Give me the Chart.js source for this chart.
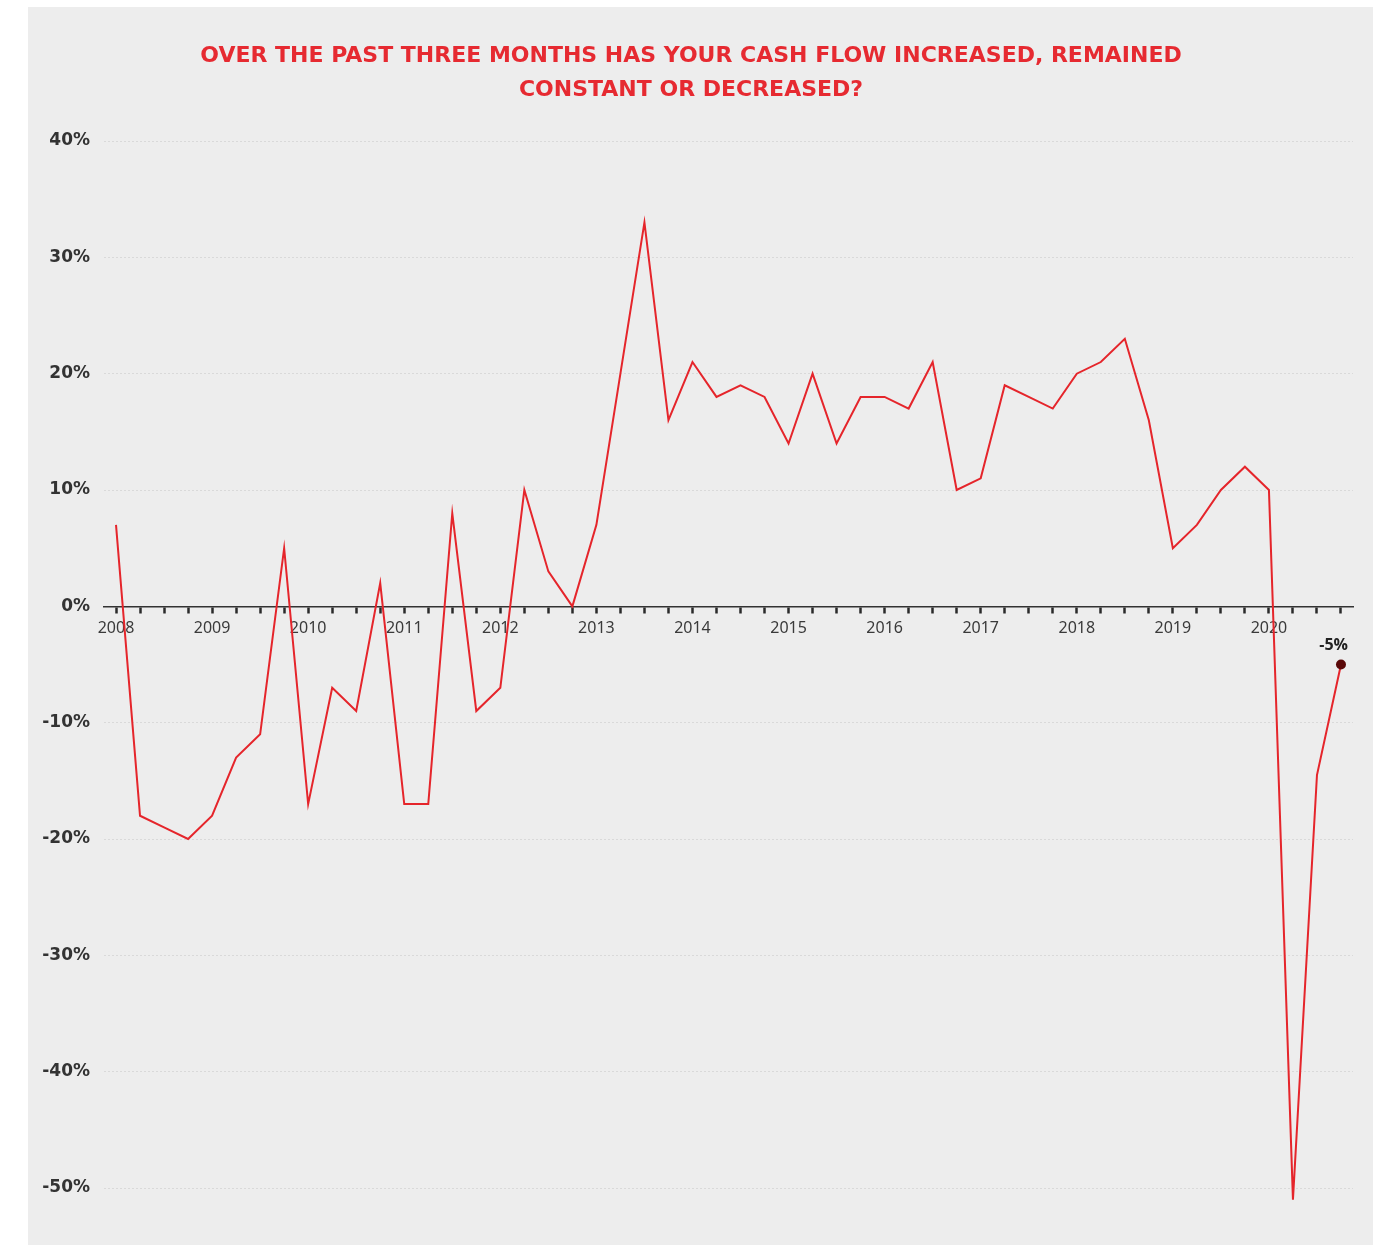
<!DOCTYPE html>
<html>
<head>
<meta charset="utf-8">
<title>Cash flow</title>
<script src="https://cdn.jsdelivr.net/npm/chart.js@4.4.0/dist/chart.umd.min.js"></script>
<style>
  body { margin: 0; background: #fff; }
  #panel { position: absolute; left: 28px; top: 7px; width: 1345px; height: 1238px; background: #ededed; }
</style>
</head>
<body>
<div id="panel"><canvas id="myChart" width="1345" height="1238"></canvas></div>
<script>
// Net balance of businesses reporting higher vs lower cash flow, by quarter
var years = ['2008', '2009', '2010', '2011', '2012', '2013', '2014', '2015', '2016', '2017', '2018', '2019', '2020'];
var quarters = ['Q1', 'Q2', 'Q3', 'Q4'];
var netBalance = [
    7, -18, -19, -20,
    -18, -13, -11, 5,
    -17, -7, -9, 2,
    -17, -17, 8, -9,
    -7, 10, 3, 0,
    7, 20, 33, 16,
    21, 18, 19, 18,
    14, 20, 14, 18,
    18, 17, 21, 10,
    11, 19, 18, 17,
    20, 21, 23, 16,
    5, 7, 10, 12,
    10, -51, -14.5, -5
];
var yTicks = [40, 30, 20, 10, 0, -10, -20, -30, -40, -50];

var labels = [];
years.forEach(function(y) {
    quarters.forEach(function(q) {
        labels.push(y + ' ' + q);
    });
});

var lastIndex = netBalance.length - 1;

// Writes the latest value above its marker
var lastValueLabel = {
    id: 'lastValueLabel',
    afterDatasetsDraw: function(chart) {
        var pt = chart.getDatasetMeta(0).data[lastIndex];
        var ctx = chart.ctx;
        ctx.save();
        ctx.font = 'bold 16px "Open Sans"';
        ctx.fillStyle = '#222';
        ctx.textAlign = 'right';
        ctx.textBaseline = 'alphabetic';
        ctx.fillText(netBalance[lastIndex] + '%', pt.x + 7, pt.y - 15);
        ctx.restore();
    }
};

var ctx = document.getElementById('myChart').getContext('2d');
var chart = new Chart(ctx, {
    type: 'line',
    data: {
        labels: labels,
        datasets: [{
            data: netBalance,
            borderColor: '#e5252b',
            borderWidth: 2,
            tension: 0,
            clip: false,
            pointRadius: netBalance.map(function(v, i) { return i === lastIndex ? 5 : 0; }),
            pointBackgroundColor: '#5a0808',
            pointBorderColor: '#5a0808',
            pointBorderWidth: 0
        }]
    },
    options: {
        responsive: false,
        animation: false,
        layout: {
            padding: { left: 1, right: 20, top: 0, bottom: 57 }
        },
        plugins: {
            legend: { display: false },
            tooltip: { enabled: false },
            title: {
                display: true,
                text: ['OVER THE PAST THREE MONTHS HAS YOUR CASH FLOW INCREASED, REMAINED', 'CONSTANT OR DECREASED?'],
                color: '#e62a31',
                font: { family: '"DejaVu Sans"', size: 22, weight: 'bold', lineHeight: 34 / 22 },
                padding: { top: 32, bottom: 34 }
            }
        },
        scales: {
            x: {
                type: 'category',
                offset: true,
                position: { y: 0 },
                border: { display: true, color: '#333', width: 1.5 },
                grid: {
                    drawOnChartArea: false,
                    offset: false,
                    tickLength: 6,
                    tickColor: '#2a2a2a',
                    tickWidth: 2.5
                },
                ticks: {
                    autoSkip: false,
                    maxRotation: 0,
                    padding: 7,
                    color: '#3a3a3a',
                    font: { family: '"Noto Sans"', size: 16 },
                    callback: function(value, index) {
                        return index % 4 === 0 ? years[index / 4] : '';
                    }
                }
            },
            y: {
                min: -50,
                max: 40,
                afterFit: function(scale) { scale.width = 75; },
                afterBuildTicks: function(scale) {
                    scale.ticks = yTicks.map(function(v) { return { value: v }; });
                },
                border: { display: false, dash: [2, 2] },
                grid: { color: '#d9d9d9', lineWidth: 1, drawTicks: false },
                ticks: {
                    padding: 14,
                    color: '#333',
                    font: { family: '"DejaVu Sans"', size: 17, weight: 'bold' },
                    callback: function(value) { return value + '%'; }
                }
            }
        }
    },
    plugins: [lastValueLabel]
});
</script>
</body>
</html>
